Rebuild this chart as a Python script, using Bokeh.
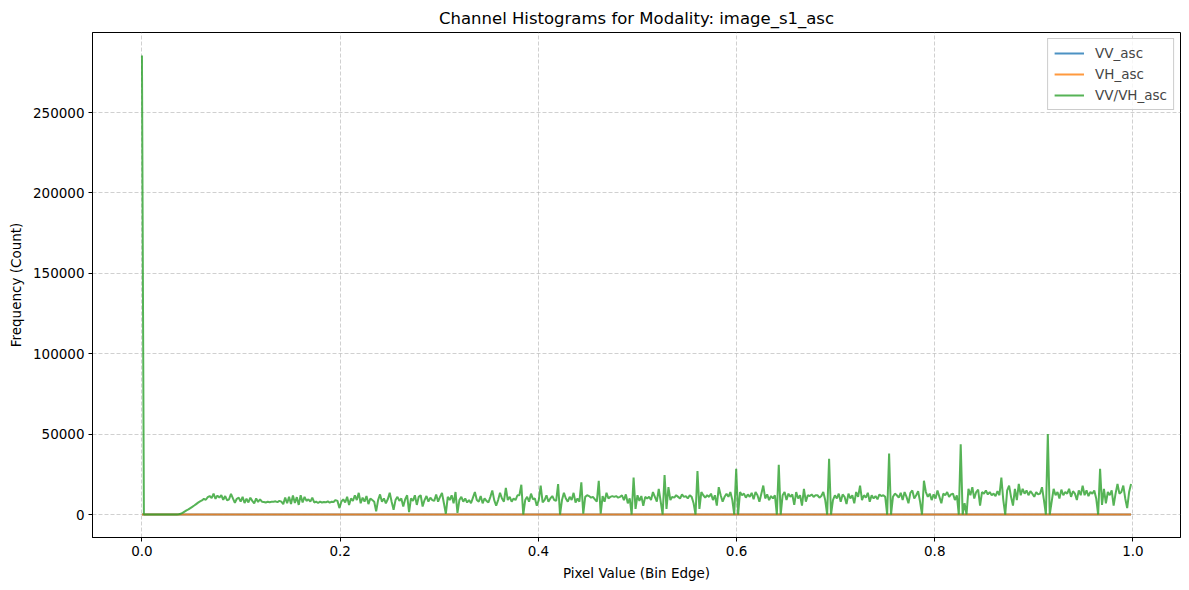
from bokeh.plotting import figure
from bokeh.models import (Range1d, FixedTicker, NumeralTickFormatter, Legend,
                          LegendItem, ColumnDataSource)
from bokeh.embed import file_html
from bokeh.resources import INLINE

# ---------------- data ----------------
title_text = "Channel Histograms for Modality: image_s1_asc"
x_label = "Pixel Value (Bin Edge)"
y_label = "Frequency (Count)"
series_names = ["VV_asc", "VH_asc", "VV/VH_asc"]
series_colors = ["#1f77b4", "#ff7f0e", "#2ca02c"]
x_ticks = [0.0, 0.2, 0.4, 0.6, 0.8, 1.0]
y_ticks = [0, 50000, 100000, 150000, 200000, 250000]

n_bins = 512
bin_edges = [i / n_bins for i in range(n_bins)]

# VV and VH histograms lie on the zero line across [0, 1]
vv_counts = [0] * n_bins
vh_counts = [0] * n_bins

# VV/VH histogram, counts in thousands
vvvh_k = [
    285.5, 0, 0, 0, 0, 0, 0, 0, 0, 0, 0, 0, 0, 0, 0, 0,
    0, 0, 0, 0.2, 0.5, 1.0, 1.8, 2.6, 3.2, 4.0, 4.8, 5.6, 6.5, 7.4, 8.2, 8.8,
    9.8, 9.2, 10.8, 11.5, 10.2, 13.0, 9.8, 11.8, 10.5, 12.0, 9.2, 11.5, 8.8, 9.5, 12.8, 10.0,
    7.3, 9.8, 10.5, 8.0, 11.0, 7.2, 9.8, 7.5, 10.5, 8.5, 7.0, 10.0, 7.8, 9.5, 8.0, 7.8,
    7.5, 8.0, 7.7, 7.9, 8.0, 8.2, 7.7, 8.5, 8.0, 6.5, 10.5, 7.0, 11.0, 6.5, 11.8, 7.2,
    10.8, 6.0, 12.0, 7.5, 11.0, 8.5, 9.5, 8.0, 10.5, 7.5, 8.0, 7.2, 8.0, 7.5, 7.8, 7.6,
    8.2, 7.4, 8.0, 7.8, 9.0, 8.5, 4.0, 8.0, 9.5, 7.5, 11.0, 6.0, 10.0, 8.5, 12.0, 9.0,
    13.5, 7.0, 10.5, 8.0, 11.5, 6.5, 10.0, 9.0, 8.0, 2.0, 9.0, 12.5, 8.0, 10.0, 7.0, 9.5,
    13.5, 8.0, 3.0, 9.0, 11.0, 8.5, 10.0, 5.0, 9.5, 12.0, 1.5, 10.0, 8.5, 12.0, 6.0, 11.0,
    12.0, 5.0, 9.0, 11.5, 8.0, 10.5, 9.0, 8.5, 12.5, 8.0, 11.0, 13.5, 7.0, 0.5, 11.0, 9.0,
    12.0, 7.0, 14.0, 1.0, 9.0, 11.0, 8.0, 10.0, 7.5, 9.0, 7.0, 10.5, 14.0, 9.0, 8.0, 11.5,
    7.0, 10.0, 8.5, 7.5, 11.0, 15.0, 9.0, 5.5, 9.0, 13.5, 10.0, 8.0, 16.5, 9.0, 11.0, 8.0,
    10.0, 9.0, 12.0, 12.0, 18.5, 0.0, 9.0, 11.0, 8.0, 13.0, 9.5, 10.0, 5.5, 9.0, 18.0, 7.5,
    9.0, 12.0, 8.0, 10.0, 11.5, 9.0, 8.5, 19.0, 0.0, 9.0, 13.5, 10.0, 8.0, 11.0, 9.0, 13.5,
    7.5, 10.0, 8.0, 20.0, 0.5, 11.0, 12.0, 11.5, 10.5, 11.0, 9.5, 8.0, 21.0, 0.5, 11.5, 8.0,
    13.5, 10.0, 11.0, 11.5, 11.0, 11.5, 10.5, 11.0, 12.0, 9.0, 12.5, 7.0, 10.0, 0.0, 23.0, 3.5,
    12.0, 8.5, 11.5, 5.5, 11.0, 10.0, 11.0, 9.0, 14.0, 11.0, 8.0, 16.0, 8.0, 0.0, 24.5, 3.5,
    17.0, 9.0, 11.0, 10.5, 12.0, 11.0, 10.0, 12.5, 11.0, 11.5, 10.0, 12.0, 11.0, 7.0, 0.0, 27.0,
    3.5, 14.0, 12.0, 10.5, 12.0, 11.0, 13.0, 9.0, 12.0, 5.6, 17.0, 12.0, 8.0, 11.0, 13.0, 11.0,
    14.0, 9.0, 0.0, 28.4, 0.0, 14.0, 12.0, 13.0, 10.5, 12.5, 11.0, 13.5, 9.5, 14.0, 12.0, 8.0,
    13.0, 18.0, 10.0, 12.5, 9.0, 11.5, 10.0, 12.0, 0.0, 31.0, 0.0, 12.0, 14.0, 9.0, 13.0, 11.0,
    12.5, 6.0, 14.0, 10.0, 12.0, 5.6, 16.0, 8.0, 12.0, 11.5, 12.5, 11.0, 12.0, 12.0, 10.5, 11.5,
    14.0, 9.0, 0.0, 34.6, 0.0, 9.0, 12.0, 10.0, 13.0, 8.0, 12.5, 11.0, 6.5, 13.0, 10.0, 12.0,
    7.0, 14.0, 11.0, 18.0, 9.0, 12.0, 10.5, 13.5, 8.0, 12.0, 10.0, 11.5, 9.5, 12.5, 11.5, 12.0,
    11.0, 0.0, 38.0, 0.0, 11.0, 13.0, 12.0, 10.5, 13.5, 9.0, 14.0, 11.0, 7.0, 13.5, 15.0, 10.0,
    12.0, 14.5, 8.0, 0.0, 21.0, 14.0, 11.0, 13.0, 9.0, 12.5, 10.0, 15.0, 11.0, 7.0, 13.0, 12.0,
    14.0, 11.0, 12.5, 13.0, 9.0, 12.0, 0.0, 43.7, 0.0, 7.0, 0.0, 16.0, 12.0, 17.0, 10.0, 14.0,
    15.5, 5.6, 14.0, 13.0, 15.0, 12.5, 14.0, 12.0, 13.0, 11.5, 14.5, 12.0, 23.0, 9.0, 0.0, 15.0,
    18.0, 11.0, 5.6, 16.0, 9.0, 19.0, 12.0, 16.0, 13.0, 15.0, 12.0, 14.5, 13.0, 11.0, 14.0, 12.5,
    13.0, 17.0, 9.0, 0.0, 50.0, 0.0, 8.0, 16.0, 12.0, 14.0, 10.0, 15.5, 12.0, 14.0, 13.0, 16.0,
    11.0, 14.5, 13.0, 9.0, 15.0, 12.0, 18.0, 12.0, 15.0, 11.5, 14.0, 13.0, 15.0, 10.0, 0.0, 28.4,
    6.0, 16.0, 7.0, 14.0, 12.0, 15.0, 5.6, 13.0, 19.0, 13.0, 14.0, 18.0, 10.0, 4.0, 14.0, 19.0,
]
vvvh_counts = [round(v * 1000) for v in vvvh_k]
assert len(vvvh_counts) == n_bins

# ---------------- figure ----------------
FONT = "DejaVu Sans"
x_span = bin_edges[-1] - bin_edges[0]
y_max = max(vvvh_counts)

p = figure(
    width=1189, height=590,
    output_backend="svg", toolbar_location=None,
    x_range=Range1d(bin_edges[0] - 0.05 * x_span, bin_edges[-1] + 0.05 * x_span),
    y_range=Range1d(-0.05 * y_max, 1.05 * y_max),
    min_border_left=92, min_border_right=9, min_border_top=32, min_border_bottom=53,
    title=title_text,
)
p.background_fill_color = "white"
p.border_fill_color = "white"
p.outline_line_color = "black"
p.outline_line_width = 1

p.title.align = "center"
p.title.text_font = FONT
p.title.text_font_size = "16.5px"
p.title.text_font_style = "normal"
p.title.text_color = "black"

p.xaxis.ticker = FixedTicker(ticks=x_ticks)
p.yaxis.ticker = FixedTicker(ticks=y_ticks)
p.xaxis.formatter = NumeralTickFormatter(format="0.0")
p.yaxis.formatter = NumeralTickFormatter(format="0")
p.xaxis.axis_label = x_label
p.yaxis.axis_label = y_label
for ax in (p.xaxis, p.yaxis):
    ax.axis_label_text_font = FONT
    ax.axis_label_text_font_size = "13.5px"
    ax.axis_label_text_font_style = "normal"
    ax.axis_label_text_color = "black"
    ax.major_label_text_font = FONT
    ax.major_label_text_font_size = "13.5px"
    ax.major_label_text_color = "black"
    ax.axis_line_color = "black"
    ax.major_tick_line_color = "black"
    ax.major_tick_in = 0
    ax.major_tick_out = 4
    ax.minor_tick_line_color = None
    ax.major_label_standoff = 4
    ax.axis_label_standoff = 6

p.grid.grid_line_color = "#b0b0b0"
p.grid.grid_line_alpha = 0.6
p.grid.grid_line_dash = "4 2"
p.grid.grid_line_width = 1

renderers = []
for name, color, counts in zip(series_names, series_colors,
                               [vv_counts, vh_counts, vvvh_counts]):
    src = ColumnDataSource(dict(x=bin_edges, y=counts))
    r = p.line("x", "y", source=src, line_color=color, line_width=2, line_alpha=0.8)
    renderers.append((name, r))

legend = Legend(
    items=[LegendItem(label=n, renderers=[r]) for n, r in renderers],
    location="top_right",
    label_text_font=FONT, label_text_font_size="13.5px",
    border_line_color="#cccccc", border_line_alpha=1.0,
    background_fill_color="white", background_fill_alpha=0.8,
    glyph_width=30, glyph_height=14, label_height=14, label_standoff=11,
    spacing=5, padding=6, margin=6,
)
p.add_layout(legend)

open("out.html", "w").write(file_html(p, INLINE))
